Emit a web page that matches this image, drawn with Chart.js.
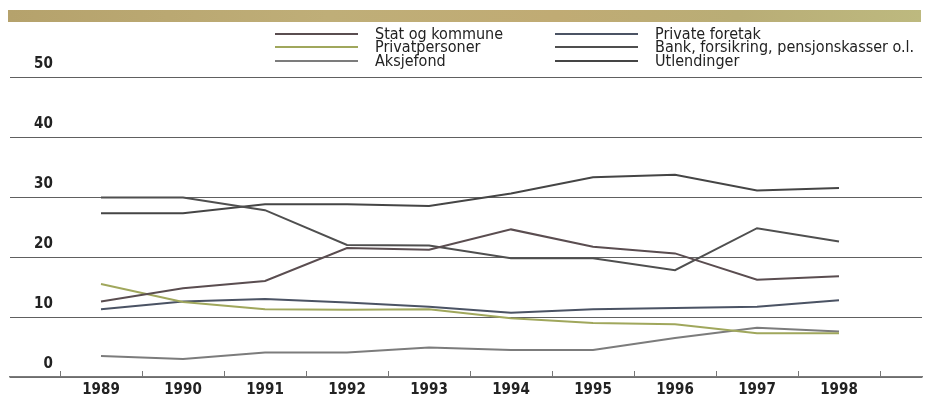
<!DOCTYPE html>
<html><head><meta charset="utf-8">
<script src="https://cdn.jsdelivr.net/npm/chart.js@4"></script>
<style>
html,body{margin:0;padding:0;background:#fff;}
#wrap{position:relative;width:925px;height:400px;overflow:hidden;background:#fff;}
#banner{position:absolute;left:8px;top:10px;width:913px;height:12px;background:linear-gradient(90deg,#b5a26c 0%,#bfae78 35%,#c0ab74 60%,#b9ad76 80%,#bdb97f 100%);}
canvas{position:absolute;left:0;top:0;}
.li{position:absolute;height:14px;font:16px "Liberation Sans Narrow","DejaVu Sans Condensed","Arial Narrow",sans-serif;color:#222;white-space:nowrap;line-height:14px;}
.li .l{position:absolute;left:0;top:6px;width:83px;height:2px;}
.li .t{position:absolute;left:100px;top:0;}
</style></head>
<body><div id="wrap"><div id="banner"></div><canvas id="c" width="925" height="400"></canvas><div id="legend"></div></div>
<script>
const years = [1989, 1990, 1991, 1992, 1993, 1994, 1995, 1996, 1997, 1998];
const statOgKommune  = [12.6, 14.8, 16.0, 21.5, 21.2, 24.6, 21.7, 20.6, 16.2, 16.8];
const privatpersoner = [15.5, 12.5, 11.3, 11.2, 11.3, 9.8, 9.0, 8.8, 7.3, 7.3];
const aksjefond      = [3.5, 3.0, 4.1, 4.1, 4.9, 4.5, 4.5, 6.5, 8.2, 7.6];
const privateForetak = [11.3, 12.6, 13.0, 12.4, 11.7, 10.7, 11.3, 11.5, 11.7, 12.8];
const bankForsikring = [29.9, 29.9, 27.8, 22.0, 21.9, 19.8, 19.8, 17.8, 24.8, 22.6];
const utlendinger    = [27.3, 27.3, 28.8, 28.8, 28.5, 30.6, 33.3, 33.7, 31.1, 31.5];
const yTicks = [0, 10, 20, 30, 40, 50];

const series = [
  {label: 'Stat og kommune', data: statOgKommune, color: '#5a4d50', col: 0, row: 0},
  {label: 'Privatpersoner', data: privatpersoner, color: '#a0a75c', col: 0, row: 1},
  {label: 'Aksjefond', data: aksjefond, color: '#7c7c7c', col: 0, row: 2},
  {label: 'Private foretak', data: privateForetak, color: '#4b5364', col: 1, row: 0},
  {label: 'Bank, forsikring, pensjonskasser o.l.', data: bankForsikring, color: '#4f4f4f', col: 1, row: 1},
  {label: 'Utlendinger', data: utlendinger, color: '#454545', col: 1, row: 2}
];

// HTML legend
const leg = document.getElementById('legend');
const colX = [275, 555];
const rowY = [27, 40, 54];
series.forEach(s => {
  const d = document.createElement('div');
  d.className = 'li';
  d.style.left = colX[s.col] + 'px';
  d.style.top = rowY[s.row] + 'px';
  d.innerHTML = '<span class="l" style="background:' + s.color + '"></span><span class="t"></span>';
  d.querySelector('.t').textContent = s.label;
  leg.appendChild(d);
});

const tickMarks = {
  id: 'tickMarks',
  afterDraw(chart) {
    const x = chart.scales.x, y = chart.scales.y;
    const ctx = chart.ctx;
    const y0 = y.getPixelForValue(0);
    ctx.save();
    ctx.strokeStyle = '#777';
    ctx.lineWidth = 1;
    const pos = years.map(v => v - 0.5).concat([years[years.length - 1] + 0.5]);
    pos.forEach(v => {
      const px = Math.round(x.getPixelForValue(v)) + 0.5;
      ctx.beginPath();
      ctx.moveTo(px, y0 - 6);
      ctx.lineTo(px, y0);
      ctx.stroke();
    });
    ctx.restore();
  }
};

const font = '"Liberation Sans Narrow","DejaVu Sans Condensed","Arial Narrow",sans-serif';

new Chart(document.getElementById('c'), {
  type: 'line',
  data: {
    datasets: series.map(s => ({
      label: s.label,
      data: years.map((yr, i) => ({x: yr, y: s.data[i]})),
      borderColor: s.color,
      backgroundColor: s.color,
      borderWidth: 2,
      pointRadius: 0,
      tension: 0,
      fill: false
    }))
  },
  options: {
    responsive: false,
    devicePixelRatio: 1,
    animation: false,
    layout: {padding: {left: 10, right: 3, top: 77, bottom: 0}},
    plugins: {legend: {display: false}, tooltip: {enabled: false}},
    scales: {
      x: {
        type: 'linear',
        min: 1989 - 91 / 82,
        max: 1989 - 91 / 82 + 912 / 82,
        afterBuildTicks: s => { s.ticks = years.map(v => ({value: v})); },
        afterFit: s => { s.height = 23; s.paddingLeft = 0; s.paddingRight = 0; },
        grid: {display: false, drawTicks: false},
        border: {display: true, color: '#7a7a7a', width: 1.5},
        ticks: {
          autoSkip: false, maxRotation: 0, padding: 6,
          color: '#222',
          font: {family: font, size: 15, weight: 'bold', lineHeight: 1},
          callback: v => String(v)
        }
      },
      y: {
        min: 0, max: 50,
        afterBuildTicks: s => { s.ticks = yTicks.map(v => ({value: v})); },
        afterFit: s => { s.width = 0; s.paddingTop = 0; s.paddingBottom = 0; },
        grid: {color: '#606060', lineWidth: 1, drawTicks: false},
        border: {display: false},
        ticks: {
          mirror: true, crossAlign: 'far', padding: 24, labelOffset: -13,
          color: '#222',
          font: {family: font, size: 15, weight: 'bold'}
        }
      }
    }
  },
  plugins: [tickMarks]
});
</script>
</body></html>
